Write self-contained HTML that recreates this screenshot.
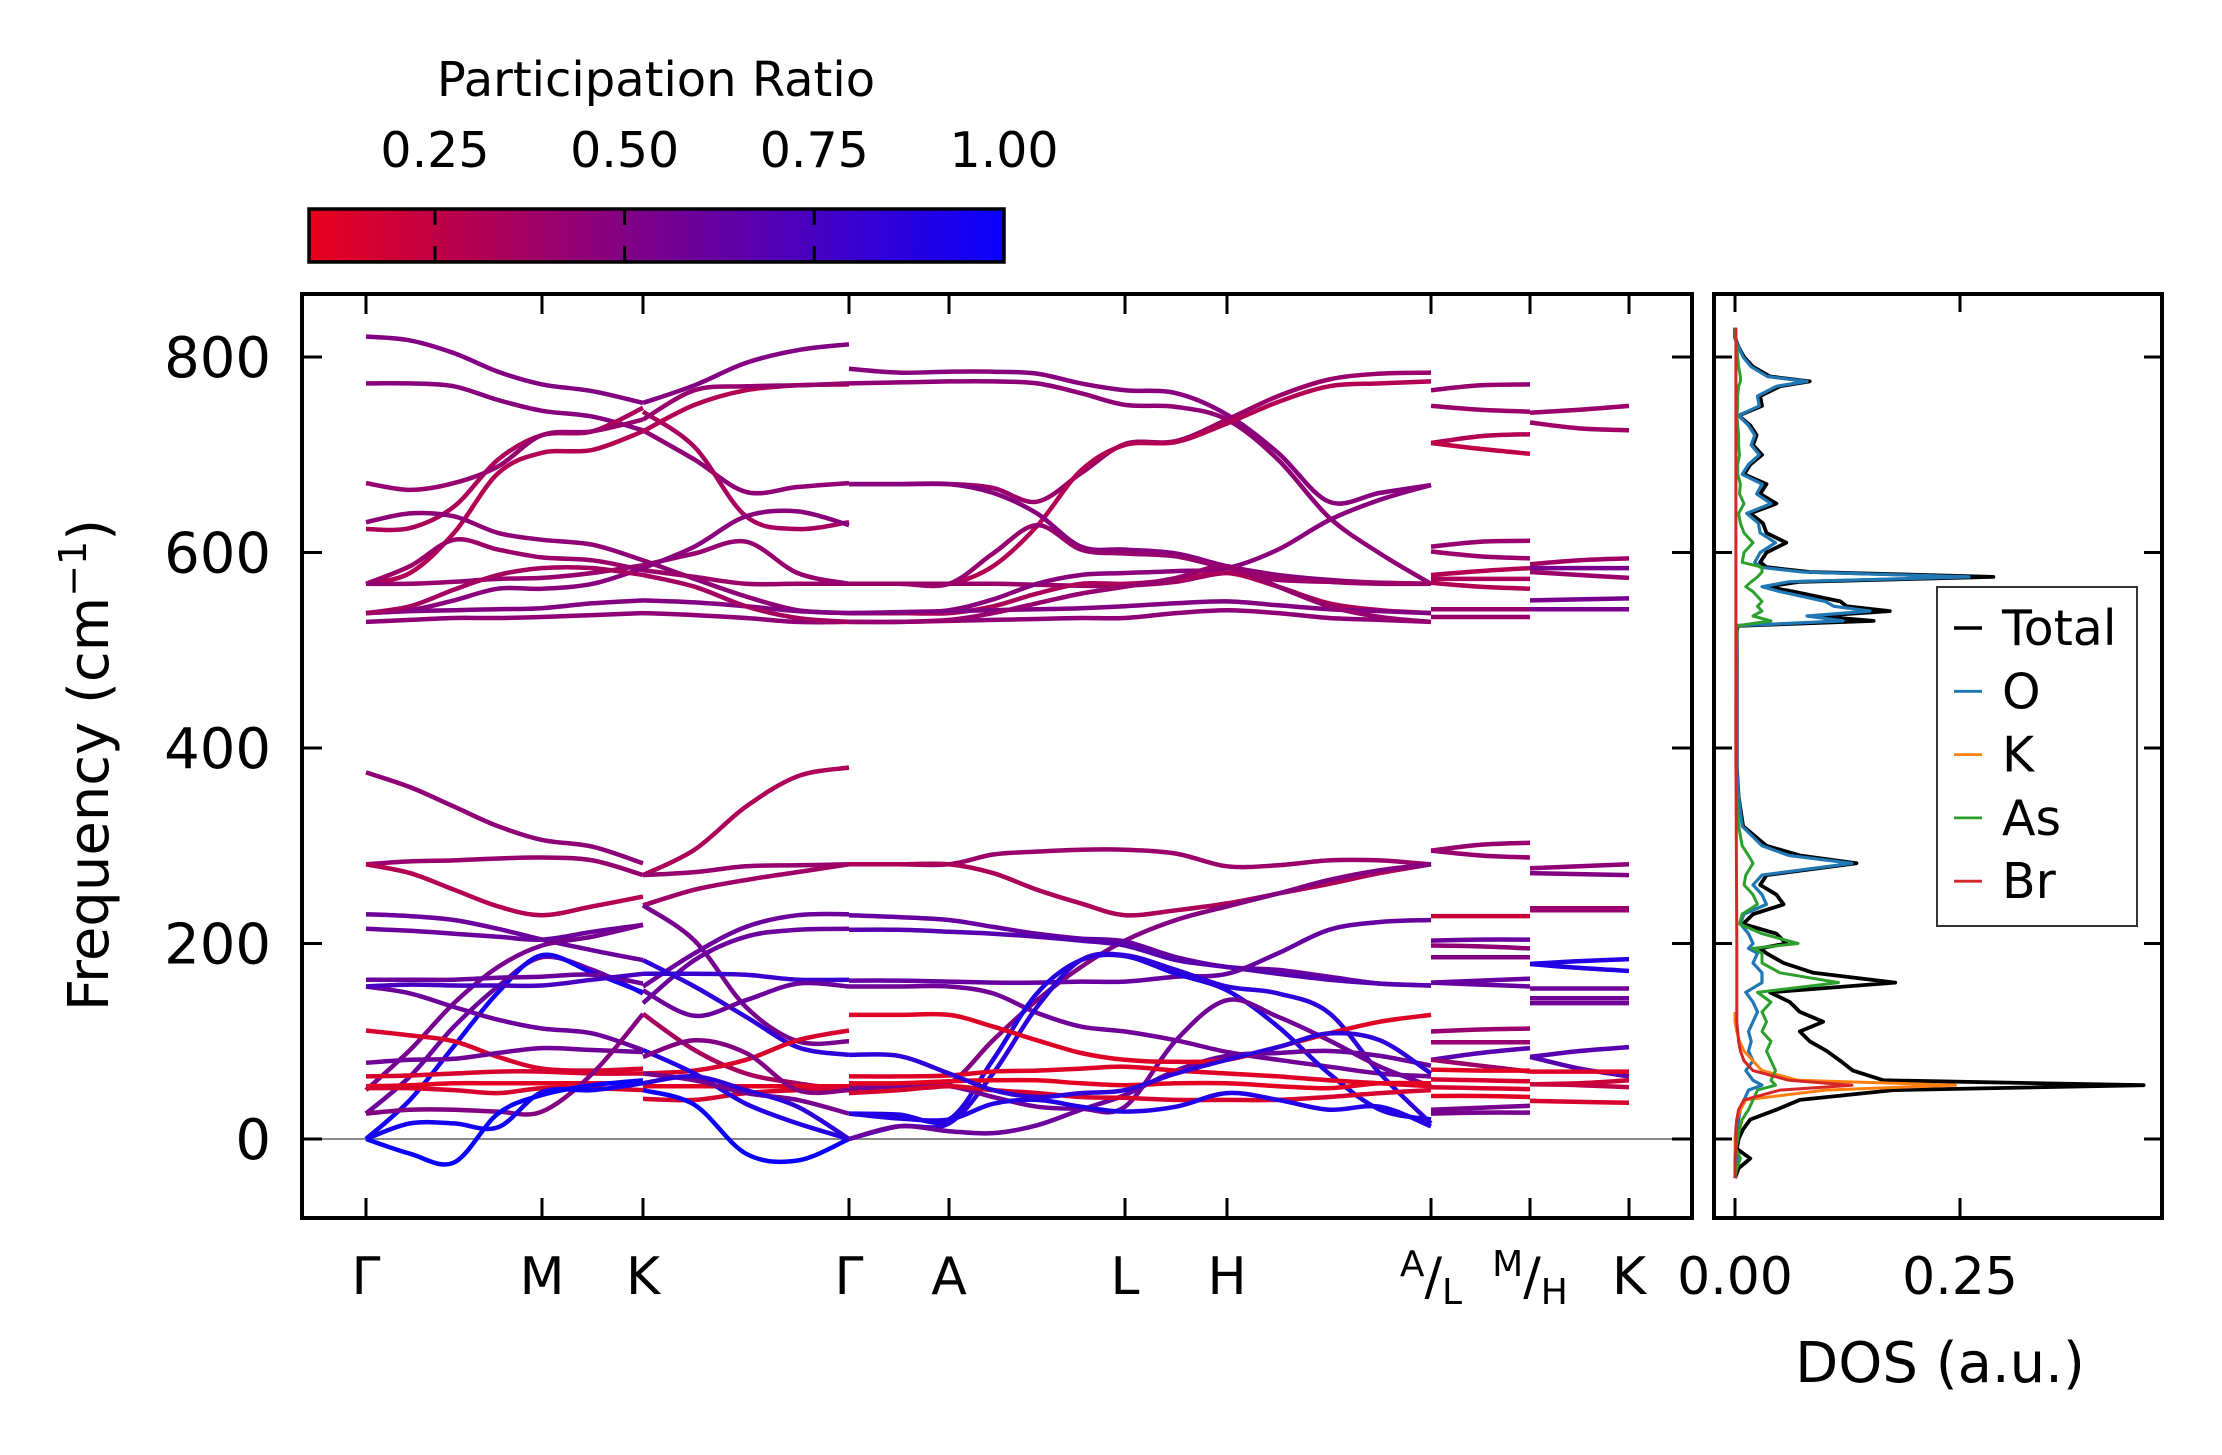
<!DOCTYPE html>
<html><head><meta charset="utf-8"><title>Phonon bands and DOS</title>
<style>
html,body{margin:0;padding:0;background:#fff;}
svg{display:block;font-family:"DejaVu Sans","Liberation Sans",sans-serif;}
</style></head>
<body>
<svg id="chart" width="2222" height="1455" viewBox="0 0 2222 1455" xmlns="http://www.w3.org/2000/svg">
<defs>
<linearGradient id="cbgrad" x1="0" x2="1" y1="0" y2="0">
<stop offset="0" stop-color="rgb(232,0,28)"/>
<stop offset="0.5" stop-color="rgb(121,0,142)"/>
<stop offset="1" stop-color="rgb(10,0,255)"/>
</linearGradient>
<clipPath id="mainclip"><rect x="302" y="294" width="1390" height="924"/></clipPath>
<clipPath id="dosclip"><rect x="1714" y="294" width="448" height="924"/></clipPath>
</defs>
<rect x="0" y="0" width="2222" height="1455" fill="#fff"/>
<g>
<text x="656" y="96" font-size="48" text-anchor="middle">Participation Ratio</text>
<rect x="309" y="209" width="695" height="53" fill="url(#cbgrad)" stroke="#000" stroke-width="3.5"/>
<g id="cbticks"></g>
</g>
<g id="mainplot"></g>
<g id="dosplot"></g>
<text transform="translate(108,765) rotate(-90)" font-size="56" text-anchor="middle">Frequency (cm<tspan font-size="38" dy="-22">−1</tspan><tspan dy="22">)</tspan></text>
<text x="1940" y="1382" font-size="56" text-anchor="middle">DOS (a.u.)</text>
<g>
<rect x="1937" y="587" width="200" height="339" fill="#fff" stroke="#333" stroke-width="2"/>
<g id="legend"></g>
</g>
</svg>
<script>
// ---------- colorbar data ----------
const cbTicks = [0.25, 0.50, 0.75, 1.00];
const cbTickLabels = ['0.25', '0.50', '0.75', '1.00'];
const cbMin = 0.084, cbMax = 1.0;

// ---------- k-path ----------
const kLabels = ['Γ', 'M', 'K', 'Γ', 'A', 'L', 'H', 'A/L', 'M/H', 'K'];
const kDist = [0, 176, 277, 483, 583, 759, 861, 1065, 1164, 1263];
const yTicks = [0, 200, 400, 600, 800];
const yTickLabels = ['0', '200', '400', '600', '800'];

// piece A: Γ-M-K
const pieceA_freqs = [
 [821,817,804,785,772,765,753],[773,773,770,756,745,739,725],[624,625,647,695,720,724,748],
 [568,579,620,681,702,705,724],[671,664,671,688,720,724,736],[631,640,637,620,613,608,592],
 [568,586,613,603,595,592,582],[568,568,570,573,574,579,587],[538,541,551,563,563,568,584],
 [538,540,541,542,543,548,551],[529,531,533,533,534,536,538],[538,545,562,577,584,584,577],
 [375,360,340,320,306,299,282],[281,284,285,287,288,285,270],[281,272,255,238,229,238,248],
 [230,228,224,215,204,193,183],[215,213,210,207,204,212,219],[50,91,139,176,198,207,219],
 [26,64,115,156,186,173,149],[0,40,95,150,188,170,150],[163,163,163,165,166,168,159],
 [156,149,135,122,113,108,91],[156,158,157,157,157,163,169],[111,106,100,84,72,70,72],
 [78,81,82,88,93,91,89],[64,65,67,69,69,67,67],[54,55,57,57,57,57,57],
 [52,52,50,47,52,52,50],[26,30,30,28,28,67,128],[0,16,16,12,48,50,57],[0,-15,-24,26,45,55,60]
];
const pieceA_ratio = [0.5,0.48,0.33,0.3,0.42,0.45,0.4,0.42,0.47,0.5,0.45,0.36,
 0.45,0.42,0.3,0.6,0.6,0.55,0.6,0.95,0.6,0.6,0.75,0.15,0.58,0.15,0.1,0.15,0.5,0.95,1.0];

// piece B: K-Γ
const pieceB_freqs = [
 [753,771,794,807,813],[725,695,662,667,671],[744,708,637,624,631],[724,751,766,771,772],
 [736,766,770,771,773],[592,573,555,541,538],[582,575,568,568,568],[587,599,611,579,568],
 [584,606,637,642,628],[551,549,545,540,538],[538,536,533,529,529],[577,565,545,533,529],
 [270,296,340,371,380],[270,273,279,280,281],[239,255,265,273,281],[239,203,135,100,100],
 [156,190,217,229,230],[139,183,207,214,215],[169,169,168,163,163],[183,156,125,94,86],
 [152,126,142,159,156],[128,91,67,57,50],[67,70,81,101,111],[54,54,54,54,54],
 [41,40,47,50,52],[50,35,-15,-22,0],[91,67,36,16,0],[67,60,47,40,26],[57,64,50,33,0],[84,101,88,50,50]
];
const pieceB_ratio = [0.5,0.45,0.35,0.3,0.42,0.45,0.4,0.42,0.47,0.5,0.45,0.36,
 0.33,0.42,0.38,0.55,0.6,0.6,0.8,0.85,0.6,0.35,0.15,0.1,0.15,1.0,0.9,0.55,0.85,0.5];

// piece C: Γ-A-L-H-A
const pieceC_freqs = [
 [788,784,785,785,783,773,766,763,741,702,652,661,669],
 [773,774,775,775,773,763,751,749,736,695,636,599,568],
 [670,670,670,666,652,681,711,714,736,760,777,783,784],
 [568,568,568,586,627,684,710,713,732,754,770,773,775],
 [670,670,670,661,640,606,603,599,586,577,572,569,568],
 [568,568,568,599,628,603,599,596,584,575,570,568,568],
 [568,568,568,568,567,566,566,570,579,572,570,569,568],
 [538,538,541,552,568,577,579,581,584,603,633,654,669],
 [538,538,538,545,558,568,568,572,579,565,548,541,538],
 [538,539,540,541,542,543,545,548,550,546,542,540,538],
 [529,529,530,531,532,533,533,538,541,538,533,531,529],
 [529,529,531,538,548,558,565,574,586,565,545,534,529],
 [281,281,281,291,294,296,296,292,279,280,285,285,281],
 [281,281,281,272,255,241,229,234,241,251,261,272,281],
 [54,54,57,101,142,176,203,224,238,251,265,275,281],
 [229,227,224,217,210,205,202,186,176,173,166,159,157],
 [214,214,212,210,207,203,198,183,176,169,163,159,157],
 [162,162,161,160,160,161,161,166,169,190,214,222,224],
 [156,156,156,149,129,115,110,101,89,81,74,67,64],
 [26,25,20,81,149,183,187,169,152,115,67,30,20],
 [0,13,16,67,135,183,188,173,156,149,129,67,16],
 [50,54,54,43,33,31,33,101,142,125,101,74,54],
 [0,13,8,6,14,30,45,70,85,88,90,85,75],
 [127,127,127,115,101,88,81,79,81,94,108,120,127],
 [64,64,65,69,70,72,74,70,67,64,60,57,54],
 [57,57,59,60,60,57,55,57,57,54,52,57,57],
 [47,50,54,50,47,43,42,40,40,40,43,47,50],
 [26,21,20,36,40,33,28,33,47,40,30,33,13],
 [86,85,67,50,43,47,50,67,81,94,108,101,67]
];
const pieceC_ratio = [0.48,0.45,0.4,0.3,0.48,0.42,0.4,0.47,0.33,0.5,0.45,0.42,
 0.4,0.33,0.5,0.62,0.68,0.62,0.58,0.9,0.85,0.58,0.6,0.12,0.12,0.1,0.15,0.9,0.85];

// piece D: L-M
const pieceD_freqs = [
 [766,771,772],[750,746,744],[712,719,721],[712,706,701],[606,611,612],[601,596,594],
 [577,581,584],[573,573,573],[569,565,563],[542,542,542],[534,534,534],[295,301,303],
 [295,290,288],[228,228,228],[203,204,204],[198,197,195],[186,186,186],[160,162,164],
 [160,158,156],[110,112,113],[99,99,99],[81,88,93],[81,75,69],[71,70,70],[61,60,59],
 [53,52,51],[44,44,43],[30,32,34],[26,27,27]
];
const pieceD_ratio = [0.42,0.4,0.3,0.25,0.42,0.4,0.3,0.33,0.3,0.42,0.4,0.42,0.42,0.2,0.6,0.45,0.5,0.62,0.62,
 0.42,0.42,0.68,0.4,0.1,0.15,0.15,0.1,0.55,0.55];

// piece E: H-K
const pieceE_freqs = [
 [743,746,750],[733,727,725],[588,592,594],[584,584,584],[580,577,574],[551,552,553],
 [542,542,542],[277,279,281],[272,271,270],[236,236,236],[234,234,234],[179,182,184],[179,175,172],
 [154,154,154],[144,144,144],[139,139,139],[84,90,94],[84,72,64],[69,69,69],[56,55,53],
 [56,57,60],[39,38,37]
];
const pieceE_ratio = [0.4,0.38,0.38,0.55,0.4,0.55,0.55,0.45,0.5,0.42,0.42,0.9,0.9,0.58,0.58,0.58,0.68,0.68,0.12,0.25,0.2,0.15];

// ---------- DOS data ----------
const dosFreq = [830,820,810,800,790,780,775,770,760,750,740,730,720,710,700,690,680,670,660,650,
 640,630,620,610,600,590,585,580,575,570,565,560,550,545,540,535,530,525,520,450,400,380,350,320,300,
 290,282,270,260,250,240,230,220,210,200,195,190,180,170,160,150,140,130,120,110,100,90,80,70,60,55,50,
 40,30,20,10,0,-10,-20,-30,-40];
const dosTotal = [0,0,0.004,0.01,0.02,0.039,0.083,0.05,0.028,0.03,0.004,0.017,0.024,0.02,0.03,0.017,0.01,0.035,0.028,0.046,
 0.017,0.031,0.035,0.057,0.035,0.028,0.035,0.083,0.287,0.072,0.035,0.065,0.117,0.124,0.172,0.09,0.154,0.003,0.002,0.002,
 0.002,0.002,0.004,0.009,0.035,0.072,0.135,0.035,0.028,0.046,0.054,0.02,0.009,0.046,0.057,0.028,0.035,0.054,0.087,0.178,
 0.039,0.061,0.072,0.098,0.072,0.083,0.102,0.117,0.131,0.165,0.454,0.176,0.072,0.046,0.017,0.009,0.004,0.002,0.017,0.004,0];
const dosO = [0,0,0.004,0.009,0.018,0.036,0.08,0.046,0.025,0.027,0.004,0.015,0.022,0.018,0.027,0.015,0.008,0.03,0.024,0.04,
 0.013,0.026,0.028,0.045,0.028,0.022,0.028,0.075,0.26,0.06,0.03,0.05,0.1,0.11,0.15,0.08,0.12,0.002,0.002,0.002,
 0.002,0.002,0.004,0.008,0.03,0.06,0.13,0.03,0.02,0.03,0.035,0.01,0.006,0.015,0.02,0.015,0.025,0.02,0.03,0.03,
 0.012,0.02,0.025,0.02,0.015,0.018,0.015,0.02,0.012,0.02,0.03,0.015,0.01,0.006,0.004,0.003,0.002,0.001,0.003,0.001,0];
const dosAs = [0,0,0.002,0.003,0.004,0.006,0.006,0.004,0.003,0.003,0.002,0.003,0.004,0.004,0.005,0.003,0.003,0.006,0.005,0.01,
 0.004,0.006,0.01,0.02,0.01,0.008,0.03,0.03,0.025,0.018,0.012,0.02,0.03,0.025,0.03,0.02,0.04,0.002,0.002,0.001,
 0.001,0.001,0.002,0.004,0.008,0.015,0.02,0.012,0.01,0.02,0.025,0.008,0.005,0.03,0.07,0.02,0.03,0.03,0.05,0.115,
 0.025,0.04,0.03,0.035,0.03,0.04,0.035,0.04,0.045,0.04,0.045,0.025,0.02,0.015,0.008,0.005,0.003,0.001,0.006,0.002,0];
const dosKFreq = [130,120,110,100,90,80,70,60,55,50,40,30,20,10,0,-10,-20,-30,-40];
const dosK = [0,0,0.002,0.005,0.01,0.02,0.03,0.07,0.245,0.1,0.012,0.006,0.002,0.001,0,0,0,0,0];
const dosBrFreq = [830,400,200,130,120,110,100,90,80,70,60,55,50,40,30,20,10,0,-10,-20,-30,-40];
const dosBr = [0.001,0.001,0.002,0.002,0.002,0.003,0.004,0.006,0.01,0.02,0.06,0.13,0.05,0.01,0.004,0.002,0.001,0.001,0.001,0,0,0];
const dosTicks = [0, 0.25];
const dosTickLabels = ['0.00', '0.25'];
const legendNames = ['Total', 'O', 'K', 'As', 'Br'];
const legendColors = ['#000000', '#1f77b4', '#ff7f0e', '#2ca02c', '#d62728'];

// ---------- scales ----------
const NS = 'http://www.w3.org/2000/svg';
function yS(f) { return 1139 - f * 0.9775; }
function xS(d) { return 366 + d; }
function xD(v) { return 1735 + v * 900; }
function cbX(v) { return 309 + (v - cbMin) / (cbMax - cbMin) * 695; }
function ratioColor(r) {
  let t = Math.max(0, Math.min(1, (r - cbMin) / (cbMax - cbMin)));
  const R = Math.round(232 * (1 - t) + 10 * t), B = Math.round(28 * (1 - t) + 255 * t);
  return 'rgb(' + R + ',0,' + B + ')';
}
function mk(tag, attrs, parent) {
  const e = document.createElementNS(NS, tag);
  for (const k in attrs) e.setAttribute(k, attrs[k]);
  parent.appendChild(e);
  return e;
}
function smoothPath(pts) {
  let d = 'M' + pts[0][0].toFixed(1) + ',' + pts[0][1].toFixed(1);
  for (let i = 0; i < pts.length - 1; i++) {
    const p0 = pts[Math.max(0, i - 1)], p1 = pts[i], p2 = pts[i + 1], p3 = pts[Math.min(pts.length - 1, i + 2)];
    const c1x = p1[0] + (p2[0] - p0[0]) / 6, c1y = p1[1] + (p2[1] - p0[1]) / 6;
    const c2x = p2[0] - (p3[0] - p1[0]) / 6, c2y = p2[1] - (p3[1] - p1[1]) / 6;
    d += ' C' + c1x.toFixed(1) + ',' + c1y.toFixed(1) + ' ' + c2x.toFixed(1) + ',' + c2y.toFixed(1) + ' ' + p2[0].toFixed(1) + ',' + p2[1].toFixed(1);
  }
  return d;
}

// ---------- colorbar ticks ----------
const cbt = document.getElementById('cbticks');
cbTicks.forEach((v, i) => {
  const x = cbX(v);
  if (v < cbMax) {
    const t1 = mk('line', {x1: x, x2: x, y1: 209, y2: 225, stroke: '#000', 'stroke-width': 3}, cbt);
    
    
    const t2 = mk('line', {x1: x, x2: x, y1: 246, y2: 262, stroke: '#000', 'stroke-width': 3}, cbt);
    
    
  }
  const tx = mk('text', {x: x, y: 167, 'font-size': 49, 'text-anchor': 'middle'}, cbt);
  tx.textContent = cbTickLabels[i];
  
  
});

// ---------- main band plot ----------
const mp = document.getElementById('mainplot');
const zl = mk('line', {x1: 302, x2: 1692, y1: yS(0), y2: yS(0), stroke: '#888', 'stroke-width': 2}, mp);


const bandsG = mk('g', {'clip-path': 'url(#mainclip)'}, mp);



const pieces = [
  {freqs: pieceA_freqs, ratio: pieceA_ratio, ticks: [0, 1, 2], sub: [4, 2], name: 'gamma-m-k'},
  {freqs: pieceB_freqs, ratio: pieceB_ratio, ticks: [2, 3], sub: [4], name: 'k-gamma'},
  {freqs: pieceC_freqs, ratio: pieceC_ratio, ticks: [3, 4, 5, 6, 7], sub: [2, 4, 2, 4], name: 'gamma-a-l-h-a'},
  {freqs: pieceD_freqs, ratio: pieceD_ratio, ticks: [7, 8], sub: [2], name: 'l-m'},
  {freqs: pieceE_freqs, ratio: pieceE_ratio, ticks: [8, 9], sub: [2], name: 'h-k'}
];
pieces.forEach(pc => {
  const xs = [];
  for (let s = 0; s < pc.sub.length; s++) {
    const a = kDist[pc.ticks[s]], b = kDist[pc.ticks[s + 1]], n = pc.sub[s];
    for (let j = 0; j < n; j++) xs.push(xS(a + (b - a) * j / n));
  }
  xs.push(xS(kDist[pc.ticks[pc.ticks.length - 1]]));
  pc.freqs.forEach((band, bi) => {
    const pts = band.map((f, i) => [xs[i], yS(f)]);
    const p = mk('path', {d: smoothPath(pts), fill: 'none', stroke: ratioColor(pc.ratio[bi]), 'stroke-width': 4.5}, bandsG);
    
    
  });
});

const fr = mk('rect', {x: 302, y: 294, width: 1390, height: 924, fill: 'none', stroke: '#000', 'stroke-width': 4}, mp);


kDist.forEach((d, i) => {
  const x = xS(d);
  const t1 = mk('line', {x1: x, x2: x, y1: 1218, y2: 1198, stroke: '#000', 'stroke-width': 3}, mp);
  
  
  const t2 = mk('line', {x1: x, x2: x, y1: 294, y2: 314, stroke: '#000', 'stroke-width': 3}, mp);
  
  
  const lab = kLabels[i];
  const tx = mk('text', {x: x, y: 1294, 'font-size': 52, 'text-anchor': 'middle'}, mp);
  if (lab.indexOf('/') >= 0) {
    const parts = lab.split('/');
    const s1 = mk('tspan', {'font-size': 36, dy: -18}, tx); s1.textContent = parts[0];
    const s2 = mk('tspan', {dy: 18}, tx); s2.textContent = '/';
    const s3 = mk('tspan', {'font-size': 36, dy: 10}, tx); s3.textContent = parts[1];
  } else {
    tx.textContent = lab;
  }
  
  
});
yTicks.forEach((v, i) => {
  const y = yS(v);
  const t1 = mk('line', {x1: 302, x2: 322, y1: y, y2: y, stroke: '#000', 'stroke-width': 3}, mp);
  
  
  const t2 = mk('line', {x1: 1692, x2: 1672, y1: y, y2: y, stroke: '#000', 'stroke-width': 3}, mp);
  
  
  const tx = mk('text', {x: 271, y: y + 20, 'font-size': 56, 'text-anchor': 'end'}, mp);
  tx.textContent = yTickLabels[i];
  
  
});

// ---------- DOS ----------
const dp = document.getElementById('dosplot');
const dg = mk('g', {'clip-path': 'url(#dosclip)'}, dp);


function dosLine(freqs, vals, color, w, name) {
  const d = freqs.map((f, i) => (i ? 'L' : 'M') + xD(vals[i]).toFixed(1) + ',' + yS(f).toFixed(1)).join(' ');
  const p = mk('path', {d: d, fill: 'none', stroke: color, 'stroke-width': w, 'stroke-linejoin': 'round'}, dg);
  
  
}
dosLine(dosFreq, dosTotal, legendColors[0], 3.8, 'dos-total-line');
dosLine(dosFreq, dosO, legendColors[1], 3.2, 'dos-o-line');
dosLine(dosKFreq, dosK, legendColors[2], 3, 'dos-k-line');
dosLine(dosFreq, dosAs, legendColors[3], 3, 'dos-as-line');
dosLine(dosBrFreq, dosBr, legendColors[4], 3, 'dos-br-line');
const dfr = mk('rect', {x: 1714, y: 294, width: 448, height: 924, fill: 'none', stroke: '#000', 'stroke-width': 4}, dp);


yTicks.forEach(v => {
  const y = yS(v);
  const t1 = mk('line', {x1: 1714, x2: 1732, y1: y, y2: y, stroke: '#000', 'stroke-width': 3}, dp);
  
  
  const t2 = mk('line', {x1: 2162, x2: 2144, y1: y, y2: y, stroke: '#000', 'stroke-width': 3}, dp);
  
  
});
dosTicks.forEach((v, i) => {
  const x = xD(v);
  const t1 = mk('line', {x1: x, x2: x, y1: 1218, y2: 1198, stroke: '#000', 'stroke-width': 3}, dp);
  
  
  const t2 = mk('line', {x1: x, x2: x, y1: 294, y2: 312, stroke: '#000', 'stroke-width': 3}, dp);
  
  
  const tx = mk('text', {x: x, y: 1294, 'font-size': 52, 'text-anchor': 'middle'}, dp);
  tx.textContent = dosTickLabels[i];
  
  
});

// ---------- legend ----------
const lg = document.getElementById('legend');
legendNames.forEach((n, i) => {
  const y = 628 + i * 63.3;
  const ln = mk('line', {x1: 1954, x2: 1982, y1: y, y2: y, stroke: legendColors[i], 'stroke-width': i ? 2.8 : 3.5}, lg);
  
  
  const tx = mk('text', {x: 2002, y: y + 17, 'font-size': 49}, lg);
  tx.textContent = n;
  
  
});
</script>
</body></html>
